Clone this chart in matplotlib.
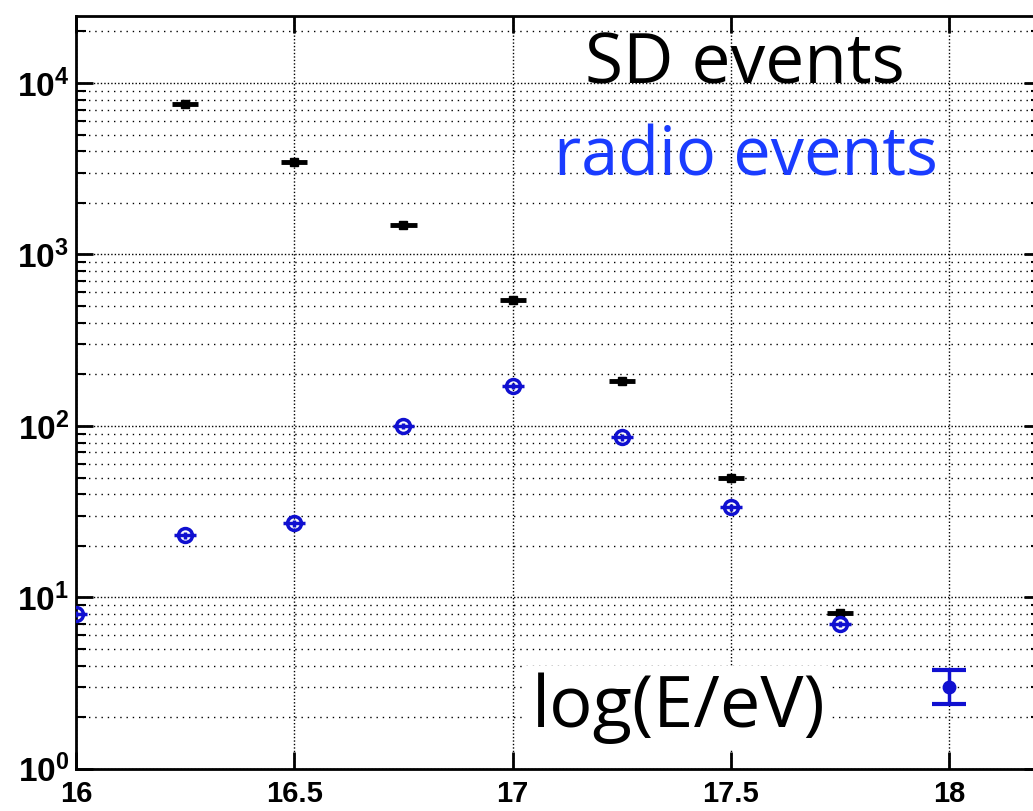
import matplotlib
matplotlib.use("Agg")
import matplotlib.pyplot as plt
import numpy as np

# log10(E/eV) bins
sd_x = [16.25, 16.5, 16.75, 17.0, 17.25, 17.5, 17.75]
sd_n = [7500, 3480, 1480, 545, 182, 50, 8.1]

radio_x = [16.0, 16.25, 16.5, 16.75, 17.0, 17.25, 17.5, 17.75]
radio_n = [8.0, 23, 27, 100, 171, 86, 33.5, 7.0]

last_x = [18.0]
last_n = [3.0]
last_err = [[0.6], [0.75]]

fig = plt.figure(figsize=(10.33, 8.11), dpi=100)
ax = fig.add_axes([0.0736, 0.052, 0.934, 0.928])

ax.errorbar(sd_x, sd_n, xerr=0.03, fmt='s', color='black', ms=6,
            elinewidth=3.5, capsize=0, zorder=3)
ax.errorbar(radio_x, radio_n, xerr=0.025, yerr=np.array(radio_n) * 0.045,
            fmt='o', color='#1010d0', mfc='none', mec='#1010d0', ms=10,
            mew=2.5, elinewidth=2.5, capsize=0, zorder=4)
ax.errorbar(last_x, last_n, yerr=last_err, fmt='o', color='#1010d0',
            ms=9, elinewidth=2.5, capsize=12, capthick=3, zorder=4)

ax.set_yscale('log')
ax.set_xlim(16, 18.21)
ax.set_ylim(1, 2.45e4)
ax.set_xticks([16, 16.5, 17, 17.5, 18])
ax.set_xticklabels(['16', '16.5', '17', '17.5', '18'])

ax.grid(True, which='major', color='black', linestyle=(0, (1, 1.5)), linewidth=1.0)
ax.grid(True, which='minor', axis='y', color='black', linestyle=(0, (1, 3.5)), linewidth=1.0)

ax.tick_params(which='both', direction='in', top=True, right=True)
ax.tick_params(which='major', length=12, width=2)
ax.tick_params(axis='x', which='major', pad=8, labelsize=21)
ax.tick_params(axis='y', which='major', pad=5, labelsize=24)
ax.tick_params(which='minor', length=7, width=1.5)
for lab in ax.get_xticklabels() + ax.get_yticklabels():
    lab.set_fontweight('bold')
    lab.set_family('Liberation Sans')
for sp in ax.spines.values():
    sp.set_linewidth(2)

ax.text(0.693, 0.935, 'SD events', transform=ax.transAxes, ha='center', va='center',
        fontsize=50, color='black', family='Open Sans')
ax.text(0.694, 0.812, 'radio events', transform=ax.transAxes, ha='center', va='center',
        fontsize=48, color='#1a3cff', family='Open Sans')
ax.text(0.625, 0.081, 'log(E/eV)', transform=ax.transAxes, ha='center', va='center',
        fontsize=52, color='black', family='Open Sans', zorder=5,
        bbox=dict(facecolor='white', edgecolor='none', pad=4))

fig.savefig('out.png', dpi=100)
